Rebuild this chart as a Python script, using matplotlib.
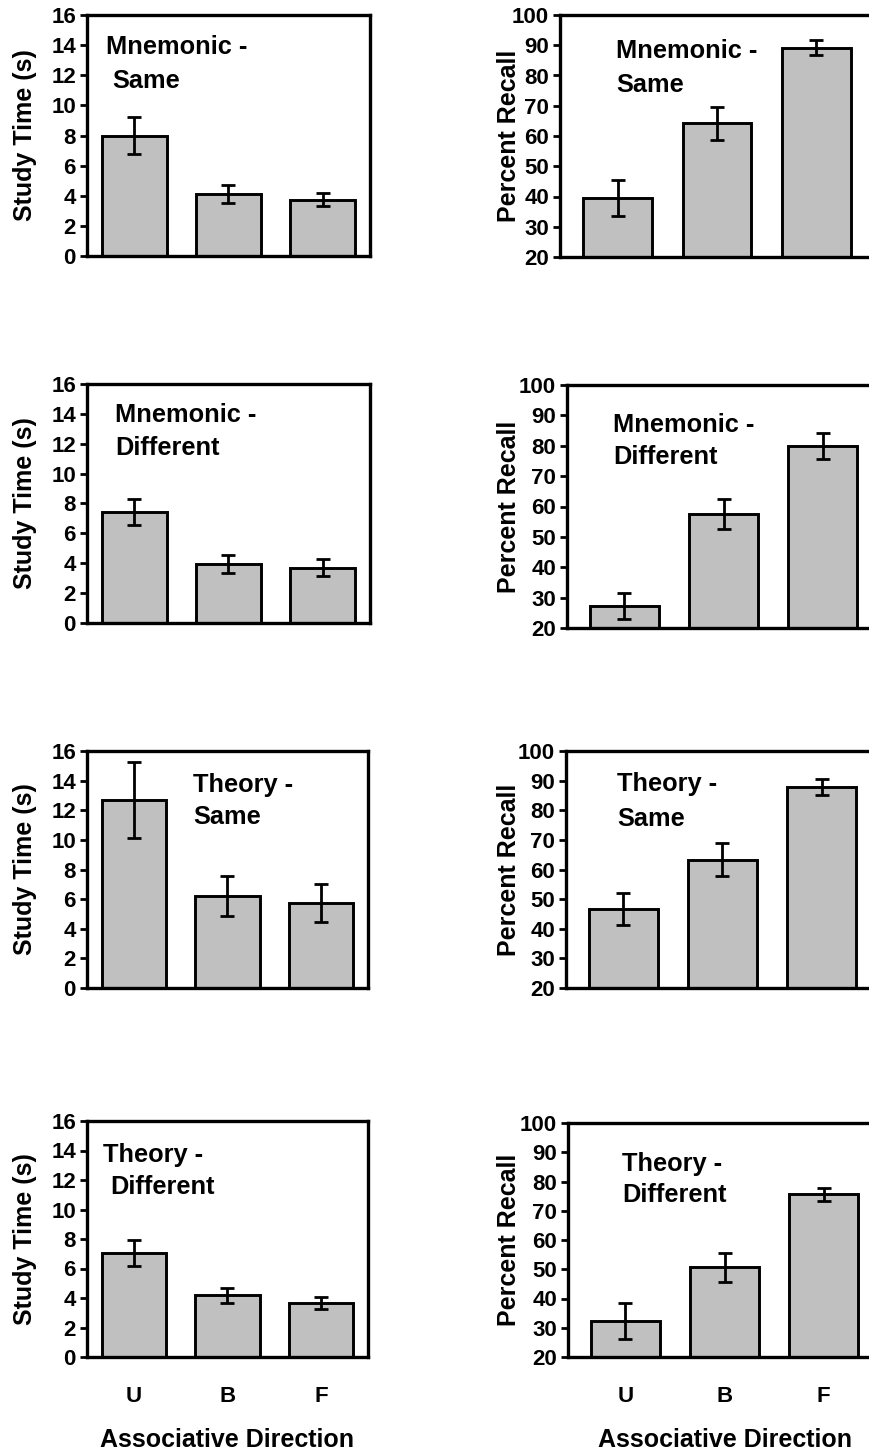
import matplotlib
matplotlib.use("Agg")
import matplotlib.pyplot as plt

plt.rcParams['font.family'] = ['Liberation Sans', 'DejaVu Sans']
plt.rcParams['font.weight'] = 'bold'

categories = ["U", "B", "F"]

ms_time = [8.0, 4.1, 3.75]
ms_time_err = [1.2, 0.6, 0.4]
ms_recall = [39.5, 64.2, 89.2]
ms_recall_err = [6.0, 5.5, 2.5]

md_time = [7.42, 3.92, 3.70]
md_time_err = [0.87, 0.6, 0.58]
md_recall = [27.2, 57.6, 80.0]
md_recall_err = [4.3, 5.0, 4.2]

ts_time = [12.7, 6.2, 5.75]
ts_time_err = [2.55, 1.35, 1.3]
ts_recall = [46.8, 63.3, 87.9]
ts_recall_err = [5.4, 5.6, 2.7]

td_time = [7.08, 4.18, 3.65]
td_time_err = [0.88, 0.52, 0.4]
td_recall = [32.2, 50.7, 75.6]
td_recall_err = [6.2, 5.0, 2.2]

titles = [("Mnemonic -", "Same"), ("Mnemonic -", "Different"),
          ("Theory -", "Same"), ("Theory -", "Different")]

W, H = 869, 1452
fig = plt.figure(figsize=(W / 100, H / 100), dpi=100)

# panel pixel boxes: left, top, right, bottom
left_boxes = [(87, 15, 370, 256), (87, 384, 370, 623), (87, 751, 368, 988), (87, 1121, 368, 1357)]
right_boxes = [(560, 15, 874, 257), (567, 385, 880, 628), (566, 751, 879, 988), (568, 1123, 881, 1357)]

# title line positions (x, y center) in pixels
left_text = [((106, 45), (112, 79)), ((115, 413), (115, 446)),
             ((193, 783), (193, 815)), ((103, 1153), (110, 1185))]
right_text = [((616, 49), (616, 83)), ((613, 423), (613, 455)),
              ((617, 782), (617, 817)), ((622, 1162), (622, 1193))]

time_data = [(ms_time, ms_time_err), (md_time, md_time_err), (ts_time, ts_time_err), (td_time, td_time_err)]
recall_data = [(ms_recall, ms_recall_err), (md_recall, md_recall_err),
               (ts_recall, ts_recall_err), (td_recall, td_recall_err)]


def make_ax(box):
    l, t, r, b = box
    return fig.add_axes([l / W, 1 - b / H, (r - l) / W, (b - t) / H])


def draw(ax, vals, errs, ylim, yticks, xlim, ylabel, label_x, bottom_row):
    x = list(range(len(categories)))
    ax.bar(x, vals, width=0.69, color='#c0c0c0', edgecolor='black', linewidth=2.1, zorder=2)
    ax.errorbar(x, vals, yerr=errs, fmt='none', ecolor='black', elinewidth=2.0,
                capsize=5, capthick=2.0, zorder=3)
    ax.set_ylim(*ylim)
    ax.set_xlim(*xlim)
    ax.set_yticks(yticks)
    for s in ax.spines.values():
        s.set_linewidth(2.4)
    ax.tick_params(axis='y', direction='out', length=5, width=2.0, labelsize=16, pad=3)
    ax.tick_params(axis='x', length=0, labelsize=16, pad=21)
    ax.set_xticks(x)
    if bottom_row:
        ax.set_xticklabels(categories, fontweight='bold')
        ax.set_xlabel("Associative Direction", fontsize=18, fontweight='bold', labelpad=15)
    else:
        ax.set_xticklabels([])
    for lab in ax.get_yticklabels():
        lab.set_fontweight('bold')
    ax.set_ylabel(ylabel, fontsize=18, fontweight='bold')
    ax.yaxis.set_label_coords(label_x, 0.5)


for i in range(4):
    axl = make_ax(left_boxes[i])
    l, t, r, b = left_boxes[i]
    draw(axl, time_data[i][0], time_data[i][1], (0, 16), list(range(0, 17, 2)), (-0.5, 2.5),
         "Study Time (s)", (37 - l) / (r - l), i == 3)
    axr = make_ax(right_boxes[i])
    l, t, r, b = right_boxes[i]
    draw(axr, recall_data[i][0], recall_data[i][1], (20, 100), list(range(20, 101, 10)), (-0.58, 2.58),
         "Percent Recall", (521 - l) / (r - l), i == 3)
    for (pos, line) in zip(left_text[i], titles[i]):
        fig.text(pos[0] / W, 1 - (pos[1] + 9) / H, line, fontsize=18.3, fontweight='bold',
                 ha='left', va='baseline')
    for (pos, line) in zip(right_text[i], titles[i]):
        fig.text(pos[0] / W, 1 - (pos[1] + 9) / H, line, fontsize=18.3, fontweight='bold',
                 ha='left', va='baseline')

fig.savefig("out.png", dpi=100)
